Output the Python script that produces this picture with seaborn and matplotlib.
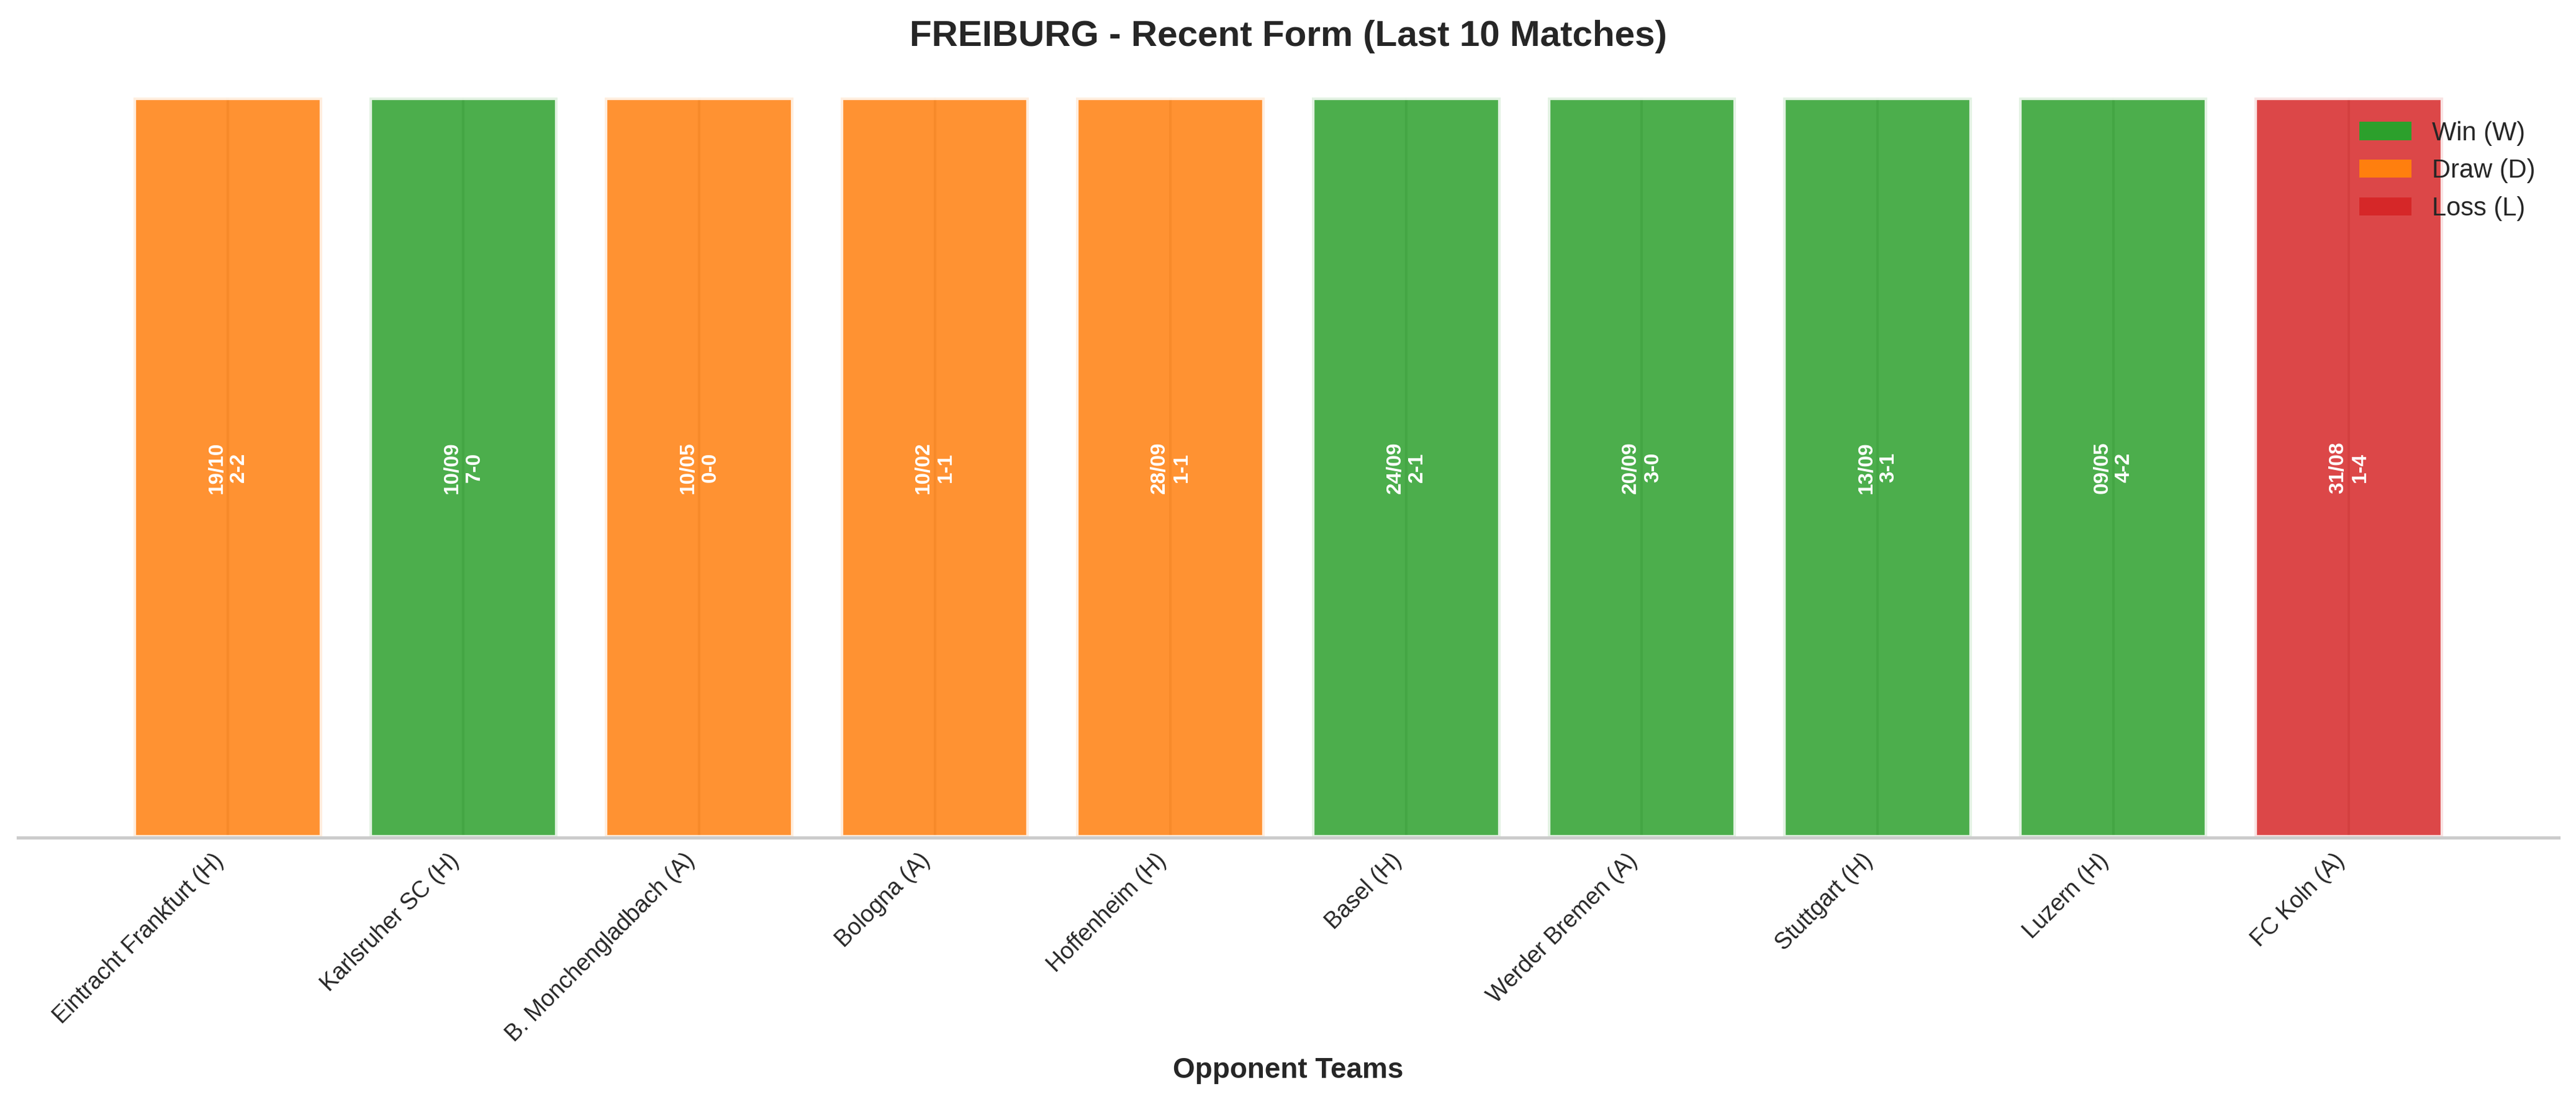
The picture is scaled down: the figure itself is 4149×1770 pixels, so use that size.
import matplotlib
matplotlib.use("Agg")
import matplotlib.pyplot as plt
import seaborn as sns
import pandas as pd
from matplotlib.patches import Patch

# ---- data ----
teams = ["Eintracht Frankfurt (H)", "Karlsruher SC (H)", "B. Monchengladbach (A)",
         "Bologna (A)", "Hoffenheim (H)", "Basel (H)", "Werder Bremen (A)",
         "Stuttgart (H)", "Luzern (H)", "FC Koln (A)"]
dates = ["19/10", "10/09", "10/05", "10/02", "28/09", "24/09", "20/09", "13/09", "09/05", "31/08"]
scores = ["2-2", "7-0", "0-0", "1-1", "1-1", "2-1", "3-0", "3-1", "4-2", "1-4"]
results = ["D", "W", "D", "D", "D", "W", "W", "W", "W", "L"]
bar_values = [1, 1, 1, 1, 1, 1, 1, 1, 1, 1]
result_order = ["W", "D", "L"]
result_names = ["Win (W)", "Draw (D)", "Loss (L)"]
result_colors = ["#2ca02c", "#ff7f0e", "#d62728"]

sns.set_theme(style="whitegrid")
plt.rcParams["font.family"] = ["Liberation Sans", "DejaVu Sans"]

W, H, DPI = 4149, 1770, 300
fig = plt.figure(figsize=(W / DPI, H / DPI), dpi=DPI)
ax = fig.add_axes([29 / W, 1 - 1349 / H, (4121 - 29) / W, (1349 - 157) / H])

df = pd.DataFrame({"team": teams, "value": bar_values, "result": results})
palette = dict(zip(result_order, result_colors))
sns.barplot(data=df, x="team", y="value", hue="result", order=teams,
            hue_order=result_order, palette=palette, dodge=False, saturation=1,
            errorbar=None, alpha=0.85, edgecolor="white", linewidth=2,
            legend=False, ax=ax)

ax.xaxis.grid(True)
ax.yaxis.grid(False)
ax.set_xlim(-0.89, 9.89)
ax.set_ylim(0, 1)
ax.set_yticks([])
ax.set_ylabel("")

for i in range(len(teams)):
    ax.text(i, 0.5, f"{dates[i]}\n{scores[i]}", rotation=90, ha="center", va="center",
            color="white", fontsize=8, fontweight="bold")

base_pad = plt.rcParams["xtick.major.pad"]
ax.tick_params(axis="x", pad=base_pad - 5.0)
plt.setp(ax.get_xticklabels(), rotation=45, ha="right", fontsize=9)
ax.set_xlabel("Opponent Teams", fontsize=11, fontweight="bold")
ax.set_title("FREIBURG - Recent Form (Last 10 Matches)", fontsize=14,
             fontweight="bold", pad=20)

handles = [Patch(facecolor=c, edgecolor="none", label=n)
           for c, n in zip(result_colors, result_names)]
ax.legend(handles=handles, loc="upper right", frameon=False, fontsize=10)

sns.despine(ax=ax, left=True)

fig.savefig("out.png", dpi=DPI)
